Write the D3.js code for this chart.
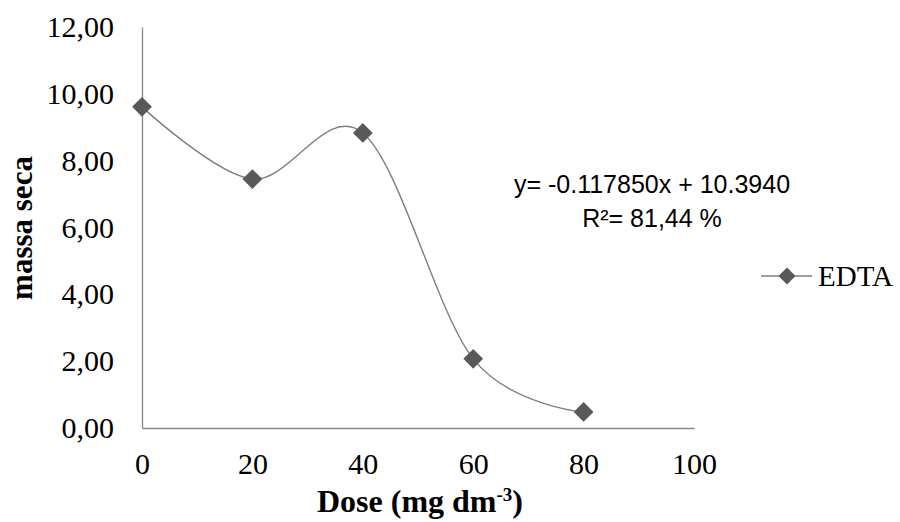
<!DOCTYPE html>
<html>
<head>
    <title>Massa seca x Dose</title>
    <script src="https://d3js.org/d3.v7.min.js"></script>
    <style>
        body {
            margin: 0;
            background-color: #ffffff;
        }
    </style>
</head>
<body>
    <script>
        // data
        const doses = [0, 20, 40, 60, 80];
        const massaSeca = [9.61, 7.45, 8.83, 2.07, 0.48];
        const xTicks = [0, 20, 40, 60, 80, 100];
        const yTicks = [0, 2, 4, 6, 8, 10, 12];
        const seriesName = "EDTA";
        const equation = "y= -0.117850x + 10.3940";
        const rSquared = "R\u00b2= 81,44 %";

        const width = 900, height = 522;

        const svg = d3.select("body").append("svg")
            .attr("width", width)
            .attr("height", height);

        // scales
        const x = d3.scaleLinear().domain([0, 100]).range([142, 694]);
        const y = d3.scaleLinear().domain([0, 12]).range([428, 27]);

        const axisColor = "#868686";
        const serif = "'Liberation Serif', 'Times New Roman', serif";

        // Y axis
        const yAxis = svg.append("g")
            .attr("transform", "translate(" + x(0) + ",0)")
            .call(d3.axisLeft(y).tickValues(yTicks).tickSize(0).tickPadding(28)
                .tickFormat(d => d3.format(".2f")(d).replace(".", ",")));

        // X axis
        const xAxis = svg.append("g")
            .attr("transform", "translate(0," + y(0) + ")")
            .call(d3.axisBottom(x).tickValues(xTicks).tickSize(0).tickPadding(25)
                .tickFormat(d3.format("d")));

        [xAxis, yAxis].forEach(function (g) {
            g.select(".domain").attr("stroke", axisColor).attr("stroke-width", 1.3);
            g.selectAll("text")
                .style("font-family", serif)
                .style("font-size", "30px")
                .style("fill", "#000");
        });

        // Y axis title
        svg.append("text")
            .attr("transform", "translate(32,228) rotate(-90)")
            .style("text-anchor", "middle")
            .style("font-family", serif)
            .style("font-weight", "bold")
            .style("font-size", "31px")
            .text("massa seca");

        // X axis title
        const xTitle = svg.append("text")
            .attr("x", 420)
            .attr("y", 512)
            .style("text-anchor", "middle")
            .style("font-family", serif)
            .style("font-weight", "bold")
            .style("font-size", "32px");
        xTitle.append("tspan").text("Dose (mg dm");
        xTitle.append("tspan").attr("dy", -11).style("font-size", "19px").text("-3");
        xTitle.append("tspan").attr("dy", 11).text(")");

        // smoothed line
        const points = doses.map((d, i) => [d, massaSeca[i]]);
        const line = d3.line()
            .x(d => x(d[0]))
            .y(d => y(d[1]))
            .curve(d3.curveCardinal.tension(0));

        svg.append("path")
            .datum(points)
            .attr("fill", "none")
            .attr("stroke", "#7f7f7f")
            .attr("stroke-width", 1.4)
            .attr("d", line);

        // diamond markers
        const markerFill = "#595959";
        svg.selectAll(".marker")
            .data(points)
            .enter()
            .append("path")
            .attr("class", "marker")
            .attr("d", d3.symbol(d3.symbolSquare, 196))
            .attr("transform", d => "translate(" + x(d[0]) + "," + y(d[1]) + ") rotate(45)")
            .attr("fill", markerFill);

        // equation text
        const eq = svg.append("text")
            .attr("x", 652)
            .style("text-anchor", "middle")
            .style("font-family", "'Liberation Sans', Arial, sans-serif")
            .style("font-size", "25px")
            .style("fill", "#000");
        eq.append("tspan").attr("x", 652).attr("y", 193).text(equation);
        eq.append("tspan").attr("x", 652).attr("y", 227).text(rSquared);

        // legend
        const legend = svg.append("g").attr("transform", "translate(0,276)");
        legend.append("line")
            .attr("x1", 761).attr("x2", 812)
            .attr("stroke", "#7f7f7f")
            .attr("stroke-width", 1.4);
        legend.append("path")
            .attr("d", d3.symbol(d3.symbolSquare, 144))
            .attr("transform", "translate(787,0) rotate(45)")
            .attr("fill", markerFill);
        legend.append("text")
            .attr("x", 818)
            .attr("y", 10)
            .style("font-family", serif)
            .style("font-size", "29px")
            .text(seriesName);
    </script>
</body>
</html>
